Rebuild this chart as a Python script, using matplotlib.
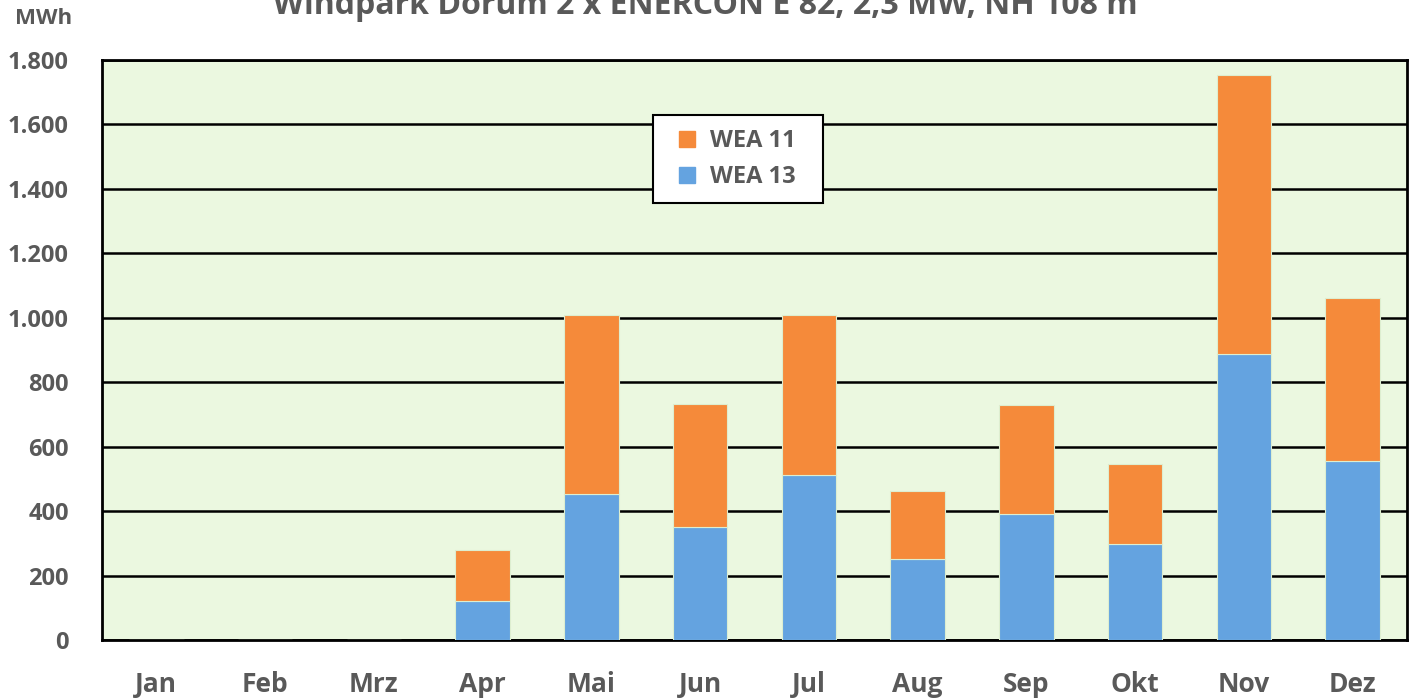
import matplotlib.pyplot as plt
import matplotlib.ticker as mticker
from matplotlib.lines import Line2D
import numpy as np

# Monthly yield, MWh
months = ['Jan', 'Feb', 'Mrz', 'Apr', 'Mai', 'Jun', 'Jul', 'Aug', 'Sep', 'Okt', 'Nov', 'Dez']
wea13 = [0, 0, 0, 121, 453, 351, 512, 251, 391, 298, 887, 555]
wea11 = [0, 0, 0, 158, 555, 381, 496, 211, 338, 248, 866, 506]

grey = '#595959'
c13, c11 = '#64a3e0', '#f58a3a'
plt.rcParams['font.family'] = ['Open Sans', 'DejaVu Sans']
plt.rcParams['font.weight'] = 'bold'

fig = plt.figure(figsize=(14.1, 7), dpi=100)
ax = fig.add_axes([102 / 1410, 60 / 700, 1305 / 1410, 580 / 700])
ax.set_facecolor('#ebf8e0')

x = np.arange(len(months))
ax.bar(x, wea13, 0.5, color=c13, edgecolor='#ddeed0', linewidth=0.8, zorder=3)
ax.bar(x, wea11, 0.5, bottom=wea13, color=c11, edgecolor='#ddeed0',
       linewidth=0.8, zorder=3)

ax.set_xlim(-0.5, 11.5)
ax.set_ylim(0, 1800)
ax.set_yticks(np.arange(0, 1801, 200))
ax.yaxis.set_major_formatter(mticker.FuncFormatter(lambda v, p: f'{int(v):,}'.replace(',', '.')))
ax.grid(axis='y', color='black', linewidth=1.8, zorder=1)
ax.set_xticks(x)
ax.set_xticklabels(months)
ax.tick_params(axis='x', length=0, pad=22, labelsize=19, labelcolor=grey)
ax.tick_params(axis='y', length=0, pad=24, labelsize=17, labelcolor=grey)
for s in ax.spines.values():
    s.set_color('black')
    s.set_linewidth(2)

# legend: square markers, fixed box width
handles = [Line2D([], [], ls='none', marker='s', ms=12, color=c11),
           Line2D([], [], ls='none', marker='s', ms=12, color=c13)]
leg = ax.legend(handles, ['WEA 11', 'WEA 13'], loc='upper left',
                bbox_to_anchor=((653 - 102) / 1305, (640 - 115) / 580, 170 / 1305, 0),
                mode='expand', frameon=True, fancybox=False, edgecolor='black',
                framealpha=1, fontsize=17, handlelength=1.7, labelspacing=0.5,
                borderpad=0.6, handletextpad=0.1, borderaxespad=0)
leg.get_frame().set_linewidth(1.5)
for t in leg.get_texts():
    t.set_color(grey)

fig.text(0.5, 1 - 5 / 700, 'Windpark Dorum 2 x ENERCON E 82, 2,3 MW, NH 108 m',
         ha='center', va='center', fontsize=23, color=grey)
fig.text(15 / 1410, 1 - 19 / 700, 'MWh', ha='left', va='center', fontsize=16, color=grey)

fig.savefig('out.png', dpi=100)
